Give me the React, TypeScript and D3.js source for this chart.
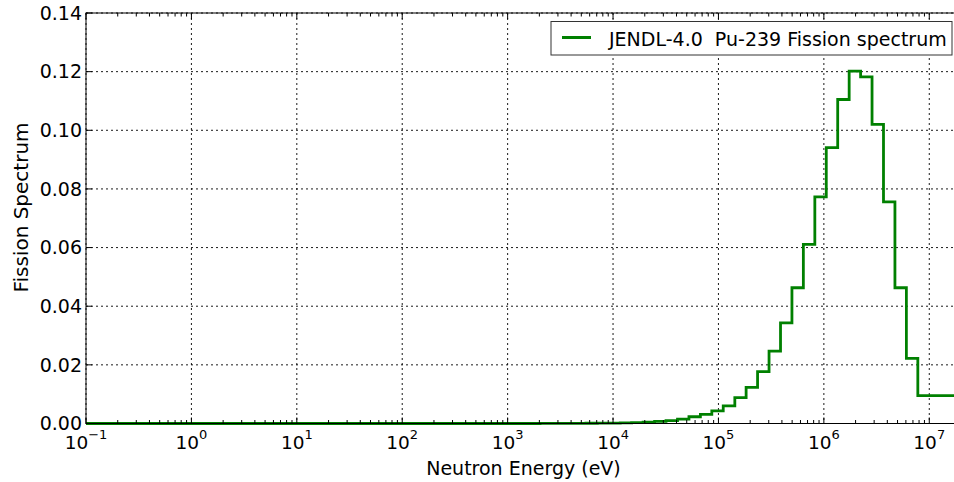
import React, { useEffect, useRef } from 'react';
import * as d3 from 'd3';

// group boundaries (eV), 0.25-lethargy bins below 10 MeV
const edges = [
  1e-5, 2.03e3, 2.61e3, 3.35e3, 4.31e3, 5.53e3, 7.1e3, 9.12e3, 1.17e4, 1.5e4, 1.93e4,
  2.48e4, 3.18e4, 4.09e4, 5.25e4, 6.74e4, 8.65e4, 1.11e5, 1.43e5, 1.83e5, 2.35e5,
  3.02e5, 3.88e5, 4.98e5, 6.39e5, 8.21e5, 1.054e6, 1.353e6, 1.738e6, 2.231e6,
  2.865e6, 3.679e6, 4.724e6, 6.065e6, 7.788e6, 2e7,
];

// spectrum value in each group
const spectrum = [
  0, 0.00002, 0.00003, 0.00004, 0.00006, 0.00008, 0.00011, 0.00016, 0.00023, 0.00033,
  0.00048, 0.0007, 0.001, 0.0015, 0.0023, 0.0031, 0.0043, 0.006, 0.0088, 0.0123,
  0.0177, 0.0247, 0.0343, 0.0463, 0.0611, 0.0773, 0.0941, 0.1105, 0.1202, 0.1182,
  0.102, 0.0756, 0.0463, 0.0222, 0.0095,
];

const xDecades = [-1, 0, 1, 2, 3, 4, 5, 6, 7];
const yTicks = [0, 0.02, 0.04, 0.06, 0.08, 0.1, 0.12, 0.14];
const legendLabel = 'JENDL-4.0  Pu-239 Fission spectrum';

const W = 954;
const H = 482;
const FONT = '"DejaVu Sans", Verdana, sans-serif';

const App: React.FC = () => {
  const ref = useRef<SVGSVGElement | null>(null);

  useEffect(() => {
    if (!ref.current) return;
    const svg = d3.select(ref.current);
    svg.selectAll('*').remove();

    const left = 86, right = 961, top = 13, bottom = 423.5;

    const x = d3.scaleLog().domain([0.1, 2e7]).range([left, right]);
    const y = d3.scaleLinear().domain([0, 0.14]).range([bottom, top]);

    svg.append('defs').append('clipPath').attr('id', 'plot-clip')
      .append('rect')
      .attr('x', left).attr('y', top - 2)
      .attr('width', right - left).attr('height', bottom - top + 4);

    // grid
    const grid = svg.append('g')
      .attr('stroke', '#000')
      .attr('stroke-width', 0.9)
      .attr('stroke-dasharray', '2,3');
    xDecades.forEach(p => {
      grid.append('line')
        .attr('x1', x(10 ** p)).attr('x2', x(10 ** p))
        .attr('y1', top).attr('y2', bottom);
    });
    yTicks.forEach(v => {
      grid.append('line')
        .attr('x1', left).attr('x2', right)
        .attr('y1', y(v)).attr('y2', y(v));
    });

    // step line
    const pts: [number, number][] = spectrum.map((v, i) => [edges[i], v]);
    pts.push([edges[edges.length - 1], spectrum[spectrum.length - 1]]);
    const line = d3.line<[number, number]>()
      .x(d => x(d[0]))
      .y(d => y(d[1]))
      .curve(d3.curveStepAfter);
    svg.append('path')
      .attr('clip-path', 'url(#plot-clip)')
      .attr('d', line(pts))
      .attr('fill', 'none')
      .attr('stroke', '#008000')
      .attr('stroke-width', 2.8)
      .attr('stroke-linejoin', 'miter');

    // spines
    svg.append('rect')
      .attr('x', left).attr('y', top)
      .attr('width', right - left).attr('height', bottom - top)
      .attr('fill', 'none')
      .attr('stroke', '#000')
      .attr('stroke-width', 1);

    // ticks (inward, bottom + top)
    const ticks = svg.append('g').attr('stroke', '#000').attr('stroke-width', 1);
    xDecades.forEach(p => {
      const xv = x(10 ** p);
      ticks.append('line').attr('x1', xv).attr('x2', xv).attr('y1', bottom).attr('y2', bottom - 6);
      ticks.append('line').attr('x1', xv).attr('x2', xv).attr('y1', top).attr('y2', top + 6);
      for (let m = 2; m <= 9; m++) {
        const e = m * 10 ** p;
        if (e > 2e7) break;
        const xm = x(e);
        ticks.append('line').attr('x1', xm).attr('x2', xm).attr('y1', bottom).attr('y2', bottom - 3.5);
        ticks.append('line').attr('x1', xm).attr('x2', xm).attr('y1', top).attr('y2', top + 3.5);
      }
    });
    yTicks.forEach(v => {
      ticks.append('line').attr('x1', left).attr('x2', left + 6).attr('y1', y(v)).attr('y2', y(v));
      ticks.append('line').attr('x1', right).attr('x2', right - 6).attr('y1', y(v)).attr('y2', y(v));
    });

    // y tick labels
    svg.append('g')
      .selectAll('text')
      .data(yTicks)
      .join('text')
      .attr('x', left - 4)
      .attr('y', d => y(d))
      .attr('dy', '0.36em')
      .attr('text-anchor', 'end')
      .style('font-family', FONT)
      .style('font-size', '19px')
      .attr('fill', '#000')
      .text(d => d.toFixed(2));

    // x tick labels (10^p)
    xDecades.forEach(p => {
      const t = svg.append('text')
        .attr('x', x(10 ** p))
        .attr('y', 449)
        .attr('text-anchor', 'middle')
        .style('font-family', FONT)
        .style('font-size', '18.5px')
        .attr('fill', '#000');
      t.append('tspan').text('10');
      t.append('tspan')
        .attr('dy', -10)
        .style('font-size', '13px')
        .text(String(p).replace('-', '\u2212'));
    });

    // axis labels
    svg.append('text')
      .attr('x', (left + right) / 2)
      .attr('y', 475)
      .attr('text-anchor', 'middle')
      .style('font-family', FONT)
      .style('font-size', '19px')
      .text('Neutron Energy (eV)');

    svg.append('text')
      .attr('transform', 'translate(27.5,207.5) rotate(-90)')
      .attr('text-anchor', 'middle')
      .style('font-family', FONT)
      .style('font-size', '20px')
      .text('Fission Spectrum');

    // legend
    const lg = svg.append('g');
    lg.append('rect')
      .attr('x', 551).attr('y', 21.5)
      .attr('width', 401).attr('height', 33.5)
      .attr('fill', '#fff')
      .attr('stroke', '#333')
      .attr('stroke-width', 1);
    lg.append('line')
      .attr('x1', 562).attr('x2', 591)
      .attr('y1', 37.5).attr('y2', 37.5)
      .attr('stroke', '#008000')
      .attr('stroke-width', 3);
    lg.append('text')
      .attr('x', 609).attr('y', 45.5)
      .attr('xml:space', 'preserve')
      .style('white-space', 'pre')
      .style('font-family', FONT)
      .style('font-size', '19px')
      .text(legendLabel);
  }, []);

  return (
    <svg
      ref={ref}
      width={W}
      height={H}
      style={{ position: 'absolute', left: 0, top: 0, background: '#fff' }}
    />
  );
};

export default App;
